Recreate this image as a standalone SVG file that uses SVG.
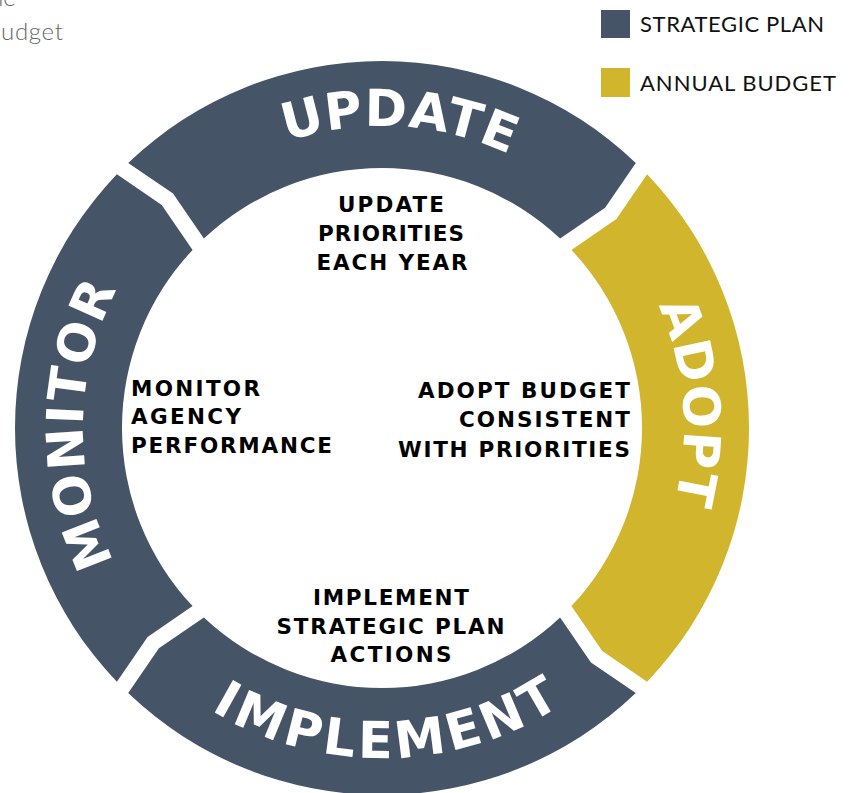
<svg xmlns="http://www.w3.org/2000/svg" width="850" height="793" viewBox="0 0 850 793">
<style>
.plan{fill:#455466}
.budget{fill:#D1B52C}
.ring{font-family:"DejaVu Sans","Liberation Sans",sans-serif;font-weight:700;font-size:51px;fill:#ffffff}
.lbl{font-family:"DejaVu Sans","Liberation Sans",sans-serif;font-weight:700;font-size:21.5px;fill:#000000}
.leg{font-family:Lato,"Open Sans","DejaVu Sans",sans-serif;font-weight:400;font-size:22px;fill:#111111}
.cut{font-family:Lato,"Open Sans","DejaVu Sans",sans-serif;font-weight:300;font-size:24px;fill:#666666}
</style>
<defs>
<path id="p-update" d="M 129.59 262.20 A 302 302 0 0 1 651.80 292.31"/>
<path id="p-monitor" d="M 229.35 685.10 A 299 299 0 0 1 235.68 167.25"/>
<path id="p-adopt" d="M 511.06 154.97 A 302 302 0 0 1 553.92 676.29"/>
<path id="p-implement" d="M 99.75 598.95 A 330 330 0 0 0 671.18 586.98"/>
</defs>
<rect width="850" height="793" fill="#ffffff"/>
<g id="cut-text">
<text class="cut" x="-10" y="6">ne</text>
<text class="cut" x="1" y="40" textLength="62">udget</text>
</g>
<g id="legend">
<rect class="plan" x="601" y="10" width="29" height="28"/>
<text class="leg" x="640" y="32" textLength="184">STRATEGIC PLAN</text>
<rect class="budget" x="601" y="68" width="29" height="29"/>
<text class="leg" x="640" y="91" textLength="196">ANNUAL BUDGET</text>
</g>
<g id="update">
<path class="plan" d="M 128.21 162.89 A 367 367 0 0 1 635.79 162.89 L 605.09 207.73 L 560.11 238.58 A 260 260 0 0 0 203.89 238.58 L 173.05 193.59 Z"/>
<text class="ring" letter-spacing="0.5"><textPath href="#p-update" startOffset="50%" text-anchor="middle">UPDATE</textPath></text>
<text class="lbl" text-anchor="middle"><tspan x="391" y="212" textLength="106">UPDATE</tspan><tspan x="391" y="241" textLength="146">PRIORITIES</tspan><tspan x="392" y="270" textLength="151">EACH YEAR</tspan></text>
</g>
<g id="adopt">
<path class="budget" d="M 647.11 174.21 A 367 367 0 0 1 647.11 681.79 L 602.27 651.09 L 571.42 606.11 A 260 260 0 0 0 571.42 249.89 L 616.41 219.05 Z"/>
<text class="ring" letter-spacing="1"><textPath href="#p-adopt" startOffset="50%" text-anchor="middle">ADOPT</textPath></text>
<text class="lbl" text-anchor="end"><tspan x="630" y="397.5" textLength="212">ADOPT BUDGET</tspan><tspan x="630" y="426.5" textLength="171">CONSISTENT</tspan><tspan x="630" y="456.5" textLength="232">WITH PRIORITIES</tspan></text>
</g>
<g id="implement">
<path class="plan" d="M 635.79 693.11 A 367 367 0 0 1 128.21 693.11 L 158.91 648.27 L 203.89 617.42 A 260 260 0 0 0 560.11 617.42 L 590.95 662.41 Z"/>
<text class="ring" letter-spacing="4"><textPath href="#p-implement" startOffset="50%" text-anchor="middle">IMPLEMENT</textPath></text>
<text class="lbl" text-anchor="middle"><tspan x="391" y="605" textLength="156">IMPLEMENT</tspan><tspan x="390.5" y="633.5" textLength="228">STRATEGIC PLAN</tspan><tspan x="391" y="662" textLength="121">ACTIONS</tspan></text>
</g>
<g id="monitor">
<path class="plan" d="M 116.89 681.79 A 367 367 0 0 1 116.89 174.21 L 161.73 204.91 L 192.58 249.89 A 260 260 0 0 0 192.58 606.11 L 147.59 636.95 Z"/>
<text class="ring" letter-spacing="1.5"><textPath href="#p-monitor" startOffset="50%" text-anchor="middle">MONITOR</textPath></text>
<text class="lbl"><tspan x="131" y="396" textLength="129">MONITOR</tspan><tspan x="131" y="424" textLength="110">AGENCY</tspan><tspan x="131" y="452.5" textLength="201">PERFORMANCE</tspan></text>
</g>
<g id="connectors"/>
</svg>
